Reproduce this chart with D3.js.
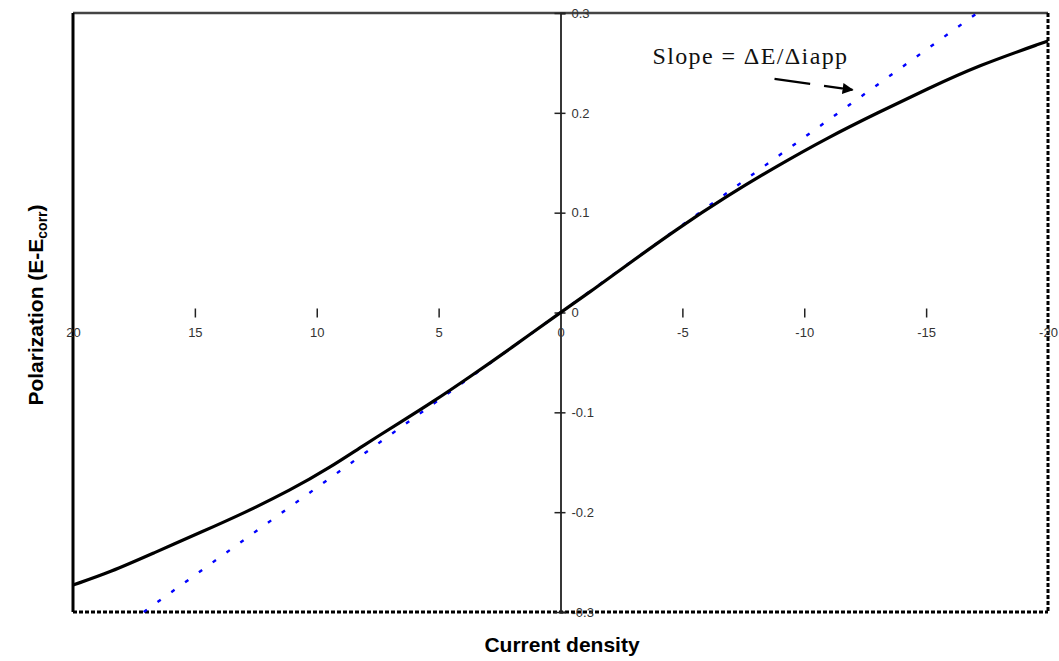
<!DOCTYPE html>
<html><head><meta charset="utf-8">
<script src="https://cdn.jsdelivr.net/npm/d3@7"></script>
<style>
html,body{margin:0;padding:0;background:#fff;}
svg{display:block;}
</style></head>
<body>
<svg id="chart" width="1059" height="661"></svg>
<script>
// Data
const currentDensity = [20, 18.46, 16.7, 14.65, 13.0, 11.08, 9.44, 8.08, 6.44, 5.33, 3.69, 2.05, 0, -1.35, -2.75, -4.8, -6.85, -8.9, -10.95, -13.0, -15.06, -17.1, -20];
const polarization   = [-0.273, -0.260, -0.241, -0.219, -0.201, -0.178, -0.155, -0.133, -0.108, -0.091, -0.064, -0.036, 0.0, 0.023, 0.048, 0.084, 0.117, 0.147, 0.175, 0.200, 0.224, 0.247, 0.272];
const tangentCurrent = [17.1, -17.1];
const tangentPolar   = [-0.3, 0.3];
const xTicks = [20, 15, 10, 5, 0, -5, -10, -15, -20];
const yTicks = [0.3, 0.2, 0.1, 0, -0.1, -0.2, -0.3];
const annotationText = "Slope = \u0394E/\u0394iapp";
const annotationPos = [-3.77, 0.249];
const arrowFrom = [-8.78, 0.234];
const arrowTo = [-11.98, 0.223];

const SANS = "Liberation Sans, Arial, sans-serif";
const svg = d3.select("#chart");
const L = 73, R = 1048, T = 13, B = 612;
const x = d3.scaleLinear().domain([20, -20]).range([L, R]);
const y = d3.scaleLinear().domain([-0.3, 0.3]).range([B, T]);

// frame
svg.append("line").attr("x1", L).attr("x2", R).attr("y1", T).attr("y2", T)
  .attr("stroke", "#444").attr("stroke-width", 2.5);
svg.append("line").attr("x1", L).attr("x2", L).attr("y1", T).attr("y2", B)
  .attr("stroke", "#000").attr("stroke-width", 3);
svg.append("line").attr("x1", L).attr("x2", R).attr("y1", B).attr("y2", B)
  .attr("stroke", "#000").attr("stroke-width", 3).attr("stroke-dasharray", "4,2");
svg.append("line").attr("x1", R).attr("x2", R).attr("y1", T).attr("y2", B)
  .attr("stroke", "#000").attr("stroke-width", 3).attr("stroke-dasharray", "4,2");

// y axis at x=0 (ticks crossing, labels right)
const yAxis = d3.axisRight(y).tickValues(yTicks).tickSize(5)
  .tickFormat(d => d === 0 ? "0" : d3.format(".1f")(d).replace("\u2212", "-"));
const gy = svg.append("g").attr("transform", `translate(${x(0)},0)`).call(yAxis);
gy.select(".domain").attr("stroke", "#222").attr("stroke-width", 1.8);
gy.selectAll(".tick line").attr("x1", -6).attr("x2", 5).attr("stroke", "#222").attr("stroke-width", 1.5);
gy.selectAll(".tick text").attr("x", 11).attr("fill", "#333")
  .style("font-size", "13px").style("font-family", SANS);

// x axis at y=0 without line
const xAxis = d3.axisBottom(x).tickValues(xTicks).tickSize(0)
  .tickFormat(d => String(d));
const gx = svg.append("g").attr("transform", `translate(0,${y(0)})`).call(xAxis);
gx.select(".domain").remove();
gx.selectAll(".tick").each(function(d){
  if (d !== 0 && d !== 20 && d !== -20) {
    d3.select(this).append("line").attr("y1", -4).attr("y2", 5).attr("stroke", "#222").attr("stroke-width", 1.5);
  }
});
gx.selectAll(".tick text").attr("y", 15).attr("dy", "0.71em").attr("fill", "#333")
  .style("font-size", "13px").style("font-family", SANS);

// tangent line
const tangent = d3.zip(tangentCurrent, tangentPolar);
svg.append("path").datum(tangent)
  .attr("d", d3.line().x(d => x(d[0])).y(d => y(d[1])))
  .attr("fill", "none").attr("stroke", "#0000ff").attr("stroke-width", 2.4)
  .attr("stroke-dasharray", "4,13");

// curve
const curve = d3.zip(currentDensity, polarization);
svg.append("path").datum(curve)
  .attr("d", d3.line().curve(d3.curveBasis).x(d => x(d[0])).y(d => y(d[1])))
  .attr("fill", "none").attr("stroke", "#000").attr("stroke-width", 3.2);

// annotation
svg.append("text").attr("x", x(annotationPos[0])).attr("y", y(annotationPos[1]))
  .style("font-family", "Liberation Serif, Times New Roman, serif").style("font-size", "24px")
  .style("letter-spacing", "1.4px").attr("fill", "#111").text(annotationText);
svg.append("defs").append("marker").attr("id", "arr").attr("viewBox", "0 0 10 10")
  .attr("refX", 9).attr("refY", 5).attr("markerWidth", 5).attr("markerHeight", 5)
  .attr("orient", "auto").append("path").attr("d", "M0,0 L10,5 L0,10 z").attr("fill", "#000");
svg.append("line").attr("x1", x(arrowFrom[0])).attr("y1", y(arrowFrom[1]))
  .attr("x2", x(arrowTo[0])).attr("y2", y(arrowTo[1]))
  .attr("stroke", "#000").attr("stroke-width", 2.2).attr("stroke-dasharray", "36,14,60")
  .attr("marker-end", "url(#arr)");

// axis titles
svg.append("text").attr("x", 562).attr("y", 652).attr("text-anchor", "middle")
  .style("font-family", SANS).style("font-weight", "bold").style("font-size", "21px")
  .attr("fill", "#000").text("Current density");
const yt = svg.append("text").attr("transform", "translate(43,305) rotate(-90)")
  .attr("text-anchor", "middle").style("font-family", SANS).style("font-weight", "bold")
  .style("font-size", "21px").attr("fill", "#000");
yt.append("tspan").text("Polarization (E-E");
yt.append("tspan").style("font-size", "14px").attr("dy", 4).text("corr");
yt.append("tspan").attr("dy", -4).text(")");
</script>
</body></html>
